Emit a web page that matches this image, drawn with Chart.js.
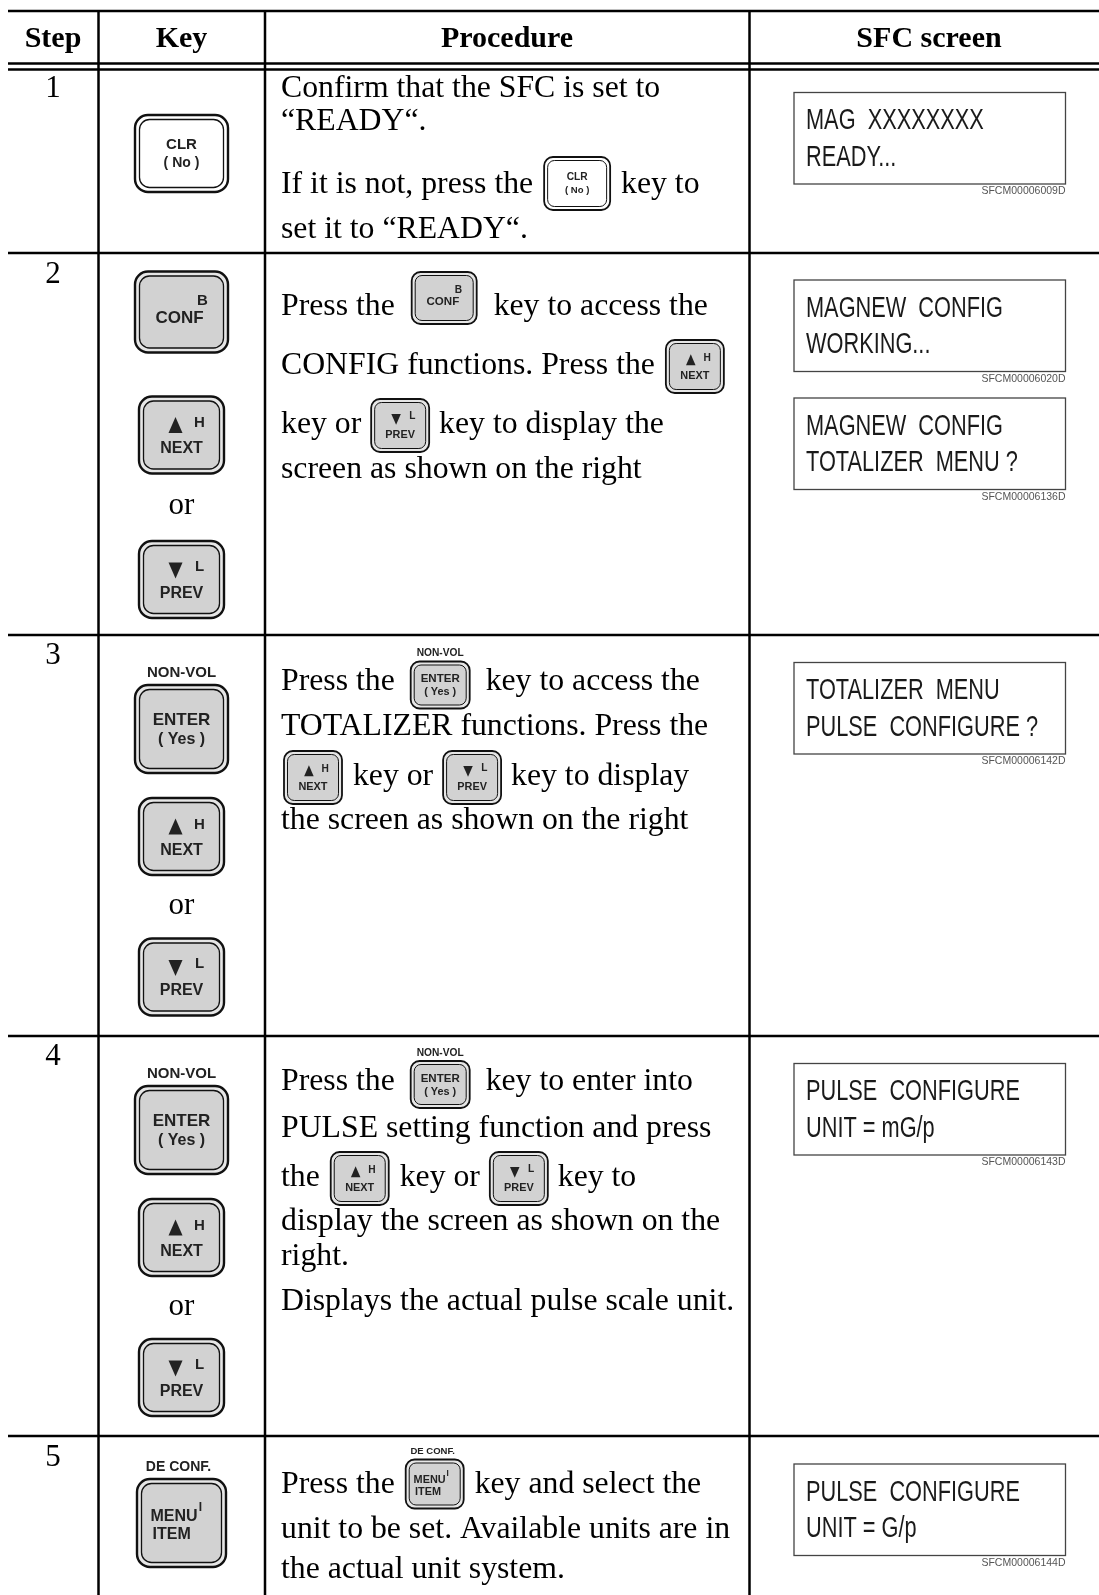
<!DOCTYPE html>
<html>
<head>
<meta charset="utf-8">
<script src="https://cdn.jsdelivr.net/npm/chart.js@4.4.1/dist/chart.umd.min.js"></script>
<style>
  html, body { margin: 0; padding: 0; background: #fff; overflow: hidden; }
  canvas { display: block; }
</style>
</head>
<body>
<canvas id="sheet" width="1099" height="1595"></canvas>
<script>
/* table content */
const headers = ["Step", "Key", "Procedure", "SFC screen"];
const steps = ["1", "2", "3", "4", "5"];
const keyStacks = [
    ["CLR"],
    ["CONF", "NEXT", "or", "PREV"],
    ["ENTER", "NEXT", "or", "PREV"],
    ["ENTER", "NEXT", "or", "PREV"],
    ["MENU"],
];
const procedures = [
    ["Confirm that the SFC is set to", "“READY“.", "If it is not, press the [CLR] key to", "set it to “READY“."],
    ["Press the [CONF] key to access the", "CONFIG functions. Press the [NEXT]", "key or [PREV] key to display the", "screen as shown on the right"],
    ["Press the [ENTER] key to access the", "TOTALIZER functions. Press the", "[NEXT] key or [PREV] key to display", "the screen as shown on the right"],
    ["Press the [ENTER] key to enter into", "PULSE setting function and press", "the [NEXT] key or [PREV] key to", "display the screen as shown on the", "right.", "Displays the actual pulse scale unit."],
    ["Press the [MENU] key and select the", "unit to be set. Available units are in", "the actual unit system."],
];
const screens = [
    [["MAG  XXXXXXXX", "READY..."]],
    [["MAGNEW  CONFIG", "WORKING..."], ["MAGNEW  CONFIG", "TOTALIZER  MENU ?"]],
    [["TOTALIZER  MENU", "PULSE  CONFIGURE ?"]],
    [["PULSE  CONFIGURE", "UNIT = mG/p"]],
    [["PULSE  CONFIGURE", "UNIT = G/p"]],
];
const screenCodes = [
    ["SFCM00006009D"],
    ["SFCM00006020D", "SFCM00006136D"],
    ["SFCM00006142D"],
    ["SFCM00006143D"],
    ["SFCM00006144D"],
];

/* layout (page units, mapped through the chart scales) */
const W = 1099, H = 1595;
const COLS = [8, 98.5, 265, 749.5, 1099];
const HEAD_CENTERS = [53, 181.5, 507, 929];
const TOP_RULE = 11, HEAD_RULES = [63.5, 69.5], HEAD_BASE = 47;
const ROW_TOPS = [69.5, 253, 635, 1036, 1436];
const STEP_BASE = [96.5, 283, 664, 1064.5, 1466];
const PROC_X = 281;
const PROC_BASE = [
    [96.5, 130, 192.5, 237.5],
    [315, 373.5, 432.5, 478],
    [690, 734.5, 784.5, 829],
    [1089.5, 1136.5, 1185.5, 1230, 1264.5, 1310],
    [1493, 1538, 1578],
];
const KEY_X = 181.5;
const KEY_Y = [[153.5], [312, 435, 514, 579.5], [729, 836.5, 914, 977], [1130, 1237.5, 1315, 1377.5], [1523]];
const SCREEN_X = [794, 1065.5], SCREEN_H = 91.5;
const SCREEN_TOP = [[92.5], [280, 398], [662.5], [1063.5], [1464]];

const KEY_SIZE = { CLR: [93, 77], CONF: [93, 81], ENTER: [93, 88], NEXT: [85, 77], PREV: [85, 77], MENU: [89, 88] };
const KEY_INLINE = { CLR: [66, 53], CONF: [65, 52], ENTER: [59, 47], NEXT: [58, 53], PREV: [58, 53], MENU: [58, 49] };
const INLINE_PAD = { CLR: 3, CONF: 9, ENTER: 8, NEXT: 3, PREV: 2, MENU: 3 };
const INLINE_DY = { CLR: -9, CONF: -17, ENTER: -5, NEXT: -7, PREV: -7, MENU: -9 };

const SERIF = '"Liberation Serif", "Times New Roman", serif';
const SANS = '"Liberation Sans", Arial, sans-serif';

function rr(ctx, x, y, w, h, r) {
    ctx.beginPath();
    ctx.moveTo(x + r, y);
    ctx.arcTo(x + w, y, x + w, y + h, r);
    ctx.arcTo(x + w, y + h, x, y + h, r);
    ctx.arcTo(x, y + h, x, y, r);
    ctx.arcTo(x, y, x + w, y, r);
    ctx.closePath();
}

function tri(ctx, cx, cy, s, up) {
    const hw = 7 * s, hh = 8 * s;
    ctx.beginPath();
    if (up) { ctx.moveTo(cx, cy - hh); ctx.lineTo(cx + hw, cy + hh); ctx.lineTo(cx - hw, cy + hh); }
    else    { ctx.moveTo(cx, cy + hh); ctx.lineTo(cx + hw, cy - hh); ctx.lineTo(cx - hw, cy - hh); }
    ctx.closePath();
    ctx.fill();
}

function drawKey(ctx, type, cx, cy, w, h, s) {
    const x = cx - w / 2, y = cy - h / 2;
    const light = type === "CLR";
    rr(ctx, x, y, w, h, 13 * s);
    ctx.fillStyle = light ? "#fff" : "#e6e6e6";
    ctx.fill();
    ctx.lineWidth = Math.max(1.8, 2.4 * s);
    ctx.strokeStyle = "#111";
    ctx.stroke();
    const g = Math.max(3.5, 4.5 * s);
    rr(ctx, x + g, y + g, w - 2 * g, h - 2 * g, 10 * s);
    ctx.fillStyle = light ? "#fff" : "#d2d2d2";
    ctx.fill();
    ctx.lineWidth = Math.max(1, 1.3 * s);
    ctx.stroke();

    const f = n => `bold ${n * s}px ${SANS}`;
    const t = (txt, n, dx, dy, align) => {
        ctx.font = f(n);
        ctx.textAlign = align || "center";
        ctx.fillText(txt, cx + dx * s, cy + dy * s);
    };
    ctx.fillStyle = "#222";
    ctx.textBaseline = "middle";
    switch (type) {
        case "CLR":
            t("CLR", 15, 0, -9); t("( No )", 14, 0, 10); break;
        case "CONF":
            t("CONF", 17, -2, 6); t("B", 15, 21, -11); break;
        case "NEXT":
            tri(ctx, cx - 6 * s, cy - 10 * s, s, true);
            t("H", 15, 18, -12); t("NEXT", 16, 0, 14); break;
        case "PREV":
            tri(ctx, cx - 6 * s, cy - 9 * s, s, false);
            t("L", 15, 18, -13); t("PREV", 16, 0, 14); break;
        case "ENTER":
            t("ENTER", 17, 0, -9); t("( Yes )", 16, 0, 11);
            t("NON-VOL", 15, 0, -h / (2 * s) - 12); break;
        case "MENU":
            t("MENU", 16, -31, -6, "left"); t("I", 12, 19, -15); t("ITEM", 16, -29, 12, "left");
            t("DE CONF.", 14, -3, -h / (2 * s) - 12); break;
    }
    ctx.textBaseline = "alphabetic";
    ctx.textAlign = "left";
}

function drawRich(ctx, px, py, line, x0, base) {
    let x = x0;
    const parts = line.split(/(\[[A-Z]+\])/).filter(p => p !== "");
    for (const p of parts) {
        const m = p.match(/^\[([A-Z]+)\]$/);
        if (m) {
            const k = m[1], [w, h] = KEY_INLINE[k];
            x += INLINE_PAD[k];
            drawKey(ctx, k, px(x + w / 2), py(base + INLINE_DY[k]), w, h, 0.68);
            x += w + INLINE_PAD[k];
        } else {
            ctx.font = `31.75px ${SERIF}`;
            ctx.fillStyle = "#000";
            ctx.textAlign = "left";
            ctx.textBaseline = "alphabetic";
            ctx.fillText(p, px(x), py(base));
            x += ctx.measureText(p).width;
        }
    }
}

const tablePlugin = {
    id: "procedureTable",
    afterDraw(chart) {
        const ctx = chart.ctx;
        const px = v => chart.scales.x.getPixelForValue(v);
        const py = v => chart.scales.y.getPixelForValue(v);
        ctx.save();
        ctx.fillStyle = "#fff";
        ctx.fillRect(0, 0, chart.width, chart.height);

        /* rules */
        ctx.strokeStyle = "#000";
        ctx.lineWidth = 2.5;
        const hline = y => { ctx.beginPath(); ctx.moveTo(px(COLS[0]), py(y)); ctx.lineTo(px(COLS[4]), py(y)); ctx.stroke(); };
        [TOP_RULE, ...HEAD_RULES, ...ROW_TOPS.slice(1)].forEach(hline);
        COLS.slice(1, 4).forEach(c => {
            ctx.beginPath(); ctx.moveTo(px(c), py(TOP_RULE)); ctx.lineTo(px(c), py(H)); ctx.stroke();
        });

        /* header */
        ctx.fillStyle = "#000";
        ctx.textAlign = "center";
        ctx.font = `bold 30px ${SERIF}`;
        headers.forEach((h, i) => ctx.fillText(h, px(HEAD_CENTERS[i]), py(HEAD_BASE)));

        steps.forEach((st, r) => {
            /* step number */
            ctx.fillStyle = "#000";
            ctx.textAlign = "center";
            ctx.font = `31px ${SERIF}`;
            ctx.fillText(st, px(HEAD_CENTERS[0]), py(STEP_BASE[r]));

            /* key column */
            keyStacks[r].forEach((k, j) => {
                if (k === "or") {
                    ctx.fillStyle = "#000";
                    ctx.textAlign = "center";
                    ctx.font = `31px ${SERIF}`;
                    ctx.fillText("or", px(KEY_X), py(KEY_Y[r][j]));
                } else {
                    const [w, h] = KEY_SIZE[k];
                    drawKey(ctx, k, px(KEY_X), py(KEY_Y[r][j]), w, h, 1);
                }
            });

            /* procedure */
            procedures[r].forEach((line, j) => drawRich(ctx, px, py, line, PROC_X, PROC_BASE[r][j]));

            /* SFC screens */
            screens[r].forEach((scr, j) => {
                const top = SCREEN_TOP[r][j];
                const x1 = px(SCREEN_X[0]), x2 = px(SCREEN_X[1]);
                ctx.strokeStyle = "#444";
                ctx.lineWidth = 1.3;
                ctx.strokeRect(x1, py(top), x2 - x1, py(top + SCREEN_H) - py(top));
                ctx.fillStyle = "#1a1a1a";
                ctx.font = `29px ${SANS}`;
                ctx.textAlign = "left";
                scr.forEach((txt, k) => {
                    ctx.save();
                    ctx.scale(0.75, 1);
                    ctx.fillText(txt, px(SCREEN_X[0] + 12) / 0.75, py(top + 36.5 + k * 36.5));
                    ctx.restore();
                });
                ctx.fillStyle = "#555";
                ctx.font = `10.5px ${SANS}`;
                ctx.textAlign = "right";
                ctx.fillText(screenCodes[r][j], x2, py(top + SCREEN_H + 10));
            });
        });
        ctx.restore();
    }
};

new Chart(document.getElementById("sheet"), {
    type: "scatter",
    data: { datasets: [] },
    options: {
        responsive: false,
        animation: false,
        events: [],
        layout: { padding: 0 },
        plugins: { legend: { display: false }, tooltip: { enabled: false } },
        scales: {
            x: { type: "linear", min: 0, max: W, display: false },
            y: { type: "linear", min: 0, max: H, reverse: true, display: false }
        }
    },
    plugins: [tablePlugin]
});
</script>
</body>
</html>
